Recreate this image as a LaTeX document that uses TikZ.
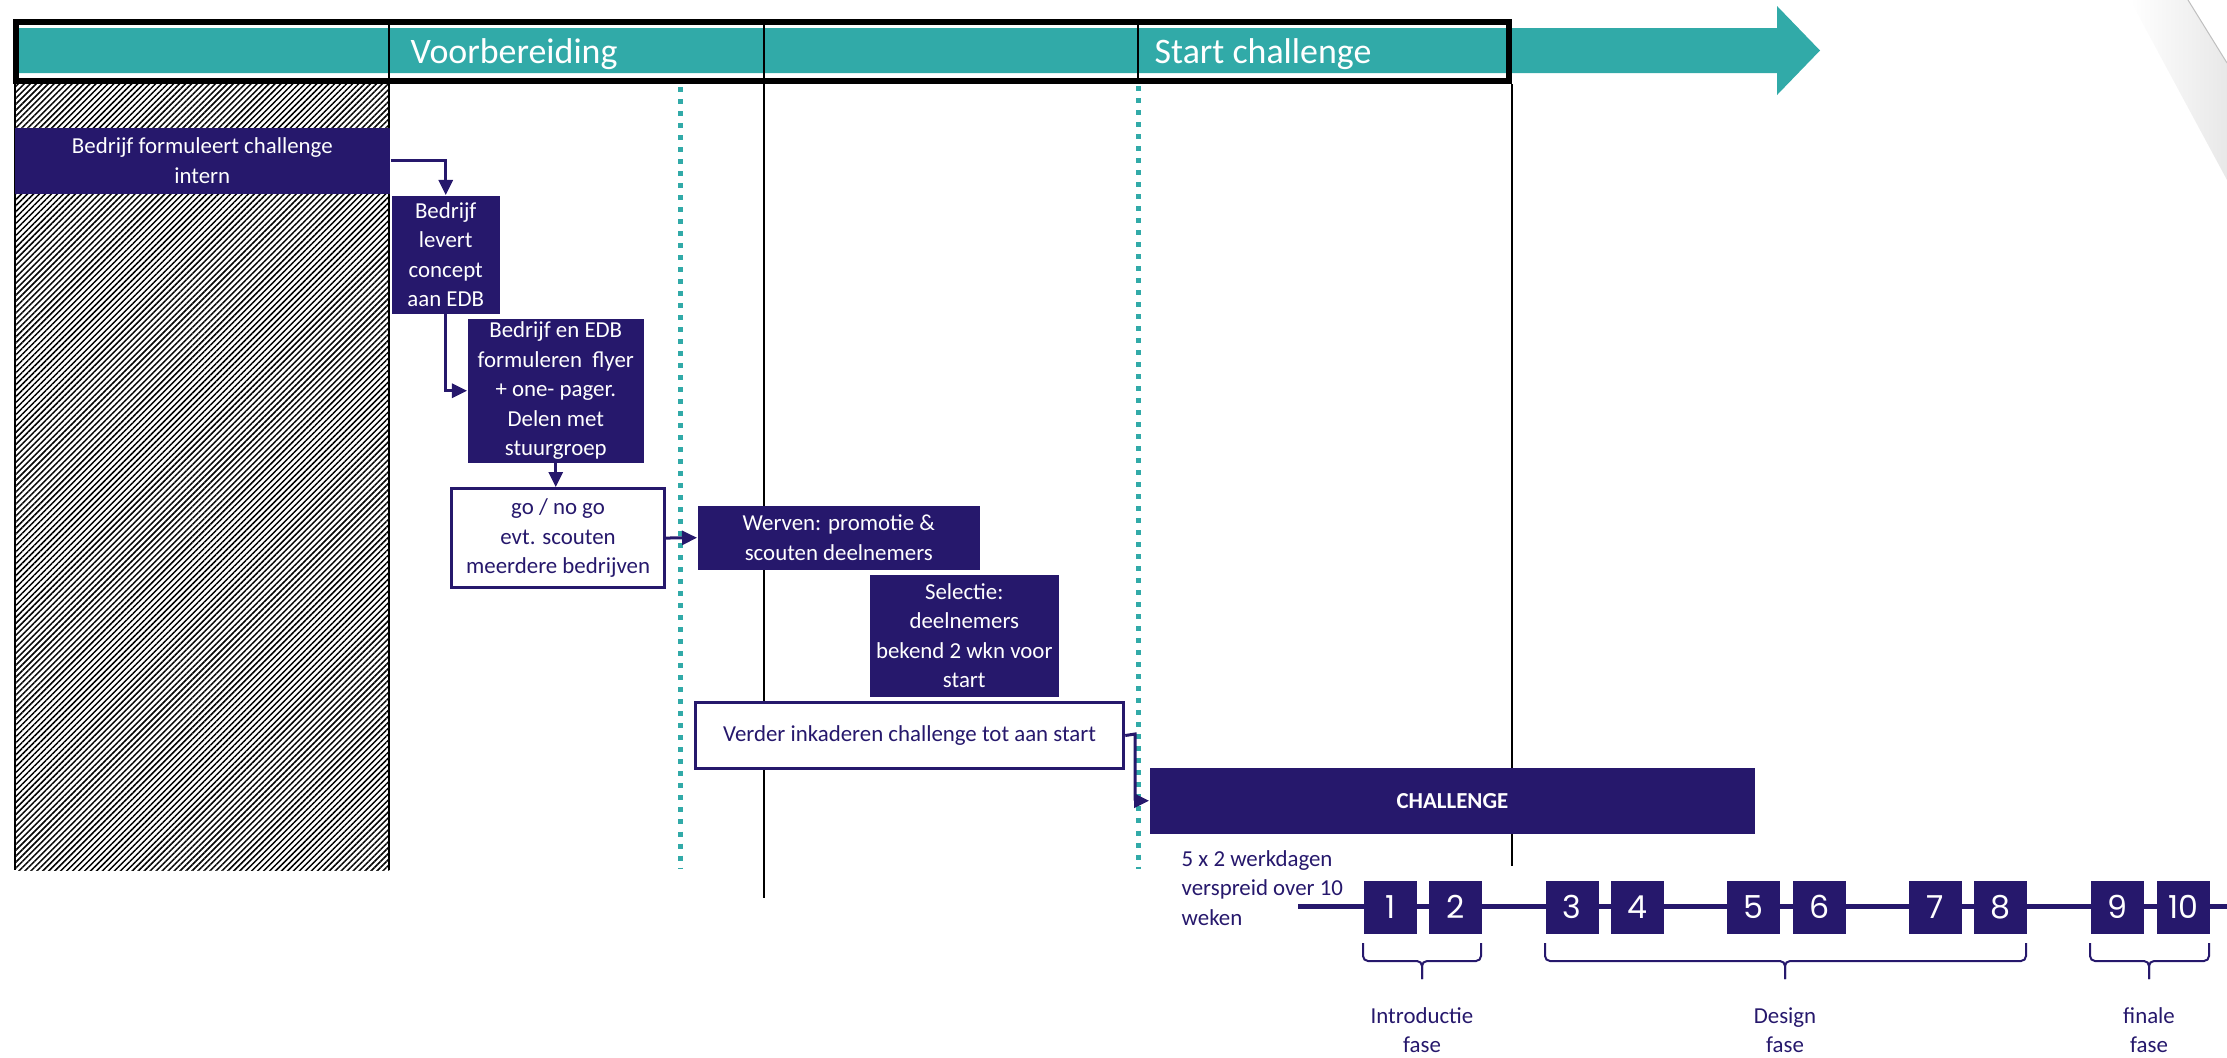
\documentclass[tikz,border=0pt]{standalone}
\usepackage{fontspec}
\setmainfont{Carlito}
\newfontfamily\dagfont{Poppins}
\usetikzlibrary{arrows.meta,patterns.meta}
\definecolor{edbblauw}{RGB}{38,24,108}
\definecolor{edbteal}{RGB}{49,170,168}

\begin{document}
\begin{tikzpicture}[x=0.01cm,y=-0.01cm,
    tekst/.style={font=\fontsize{6.5pt}{8.4pt}\selectfont},
    blok/.style={tekst,fill=edbblauw,text=white,align=center,anchor=north west,inner sep=0pt},
    openblok/.style={tekst,draw=edbblauw,line width=0.03cm,fill=white,text=edbblauw,align=center,anchor=north west,inner sep=0pt},
    verbind/.style={draw=edbblauw,line width=0.03cm,-{Triangle[length=0.15cm,width=0.14cm]}},
    dag/.style={fill=edbblauw,text=white,minimum size=0.53cm,inner sep=0pt,anchor=north west,font=\dagfont\fontsize{9pt}{9pt}\selectfont},
    fase/.style={tekst,text=edbblauw,align=center,inner sep=0pt},
    kop/.style={anchor=base west,inner sep=0pt,text=white,font=\fontsize{10.2pt}{12pt}\selectfont},
    scheiding/.style={line width=0.02cm},
    mijlpaal/.style={edbteal,line width=0.05cm,dash pattern=on 0.05cm off 0.07cm},
    haak/.style={edbblauw,line width=0.02cm,rounded corners=0.05cm}
  ]
                \useasboundingbox (0,0) rectangle (2227,1057);

                  \shade[left color=white,right color=black!9] (2130,0) -- (2188,0) -- (2227,63) -- (2227,180) -- cycle;
                  \draw[black!25,line width=0.01cm] (2188,0) -- (2227,63);

                  \fill[edbteal] (19,28) -- (1777,28) -- (1777,6) -- (1820,50.5) -- (1777,95) -- (1777,73) -- (19,73) -- cycle;
                  \draw[line width=0.06cm] (16,22) rectangle (1509,81);
                  \foreach \x in {389,764,1138}
                     \draw[scheiding] (\x,22) -- (\x,81);
                  \node[kop] (voorbereiding) at (410,63) {Voorbereiding};
                  \node[kop] (startchallenge) at (1154,63) {Start challenge};

                  \fill[pattern={Lines[angle=45,distance=1.2pt,line width=0.42pt]}] (15,84) rectangle (389,870);
                  \draw[scheiding] (15,84) to (15,870);
                  \draw[scheiding] (389,84) to (389,870);
                  \draw[scheiding] (764,84) to (764,898);
                  \draw[scheiding] (1512,84) to (1512,866);
                  \draw[mijlpaal] (680,87) to (680,869);
                  \draw[mijlpaal] (1138,86) to (1138,869);

                  \node[blok,minimum width=3.75cm,minimum height=0.66cm] (formuleert) at (14,127) {Bedrijf formuleert challenge\\intern};
                  \node[blok,minimum width=1.08cm,minimum height=1.18cm] (levert) at (391,195) {Bedrijf\\levert\\concept\\aan EDB};
                  \node[blok,minimum width=1.76cm,minimum height=1.44cm] (flyer) at (467,318) {Bedrijf en EDB\\formuleren\ \ flyer\\+ one- pager.\\Delen met\\stuurgroep};
                  \node[openblok,minimum width=2.13cm,minimum height=0.99cm] (gonogo) at (450,487) {go / no go\\evt. scouten\\meerdere bedrijven};
                  \node[blok,minimum width=2.82cm,minimum height=0.64cm] (werven) at (697,505) {Werven: promotie \&\\scouten deelnemers};
                  \node[blok,minimum width=1.89cm,minimum height=1.22cm] (selectie) at (869,574) {Selectie:\\deelnemers\\bekend 2 wkn voor\\start};
                  \node[openblok,minimum width=4.28cm,minimum height=0.66cm] (inkaderen) at (694,701) {Verder inkaderen challenge tot aan start};
                  \node[blok,minimum width=6.05cm,minimum height=0.66cm,font=\bfseries\fontsize{6.5pt}{8.4pt}\selectfont] (challenge) at (1149,767) {CHALLENGE};

                  \draw[verbind] (formuleert.east) -| (levert.north);
                  \draw[verbind] (levert.south) |- (flyer.west);
                  \draw[verbind] (flyer.south) -- (flyer.south |- gonogo.north);
                  \draw[verbind] (gonogo.east) -- (werven.west);
                  \coordinate (knik) at (1135,734);
                  \draw[verbind] (inkaderen.east) -- (knik) |- (challenge.west);

                  \draw[edbblauw,line width=0.05cm] (1298,906.5) -- (2227,906.5);
                  \foreach \x/\n in {1363/1,1428/2,1545/3,1610/4,1726/5,1792/6,1908/7,1973/8,2090/9,2156/10}
                     \node[dag] (dag\n) at (\x,880) {\n};
                  \node[tekst,text=edbblauw,align=left,anchor=west,inner sep=0pt] (werkdagen) at (1181,888) {5 x 2 werkdagen\\verspreid over 10\\weken};

                  \foreach \a/\m/\b in {1363/1422/1481,1545/1785/2026,2090/2149/2209}{
                     \draw[haak] (\a,943) -- (\a,961) -- (\m,961) -- (\m,979);
                     \draw[haak] (\b,943) -- (\b,961) -- (\m,961) -- (\m,979);
                  }
                  \node[fase] (introductie) at (1422,1030) {Introductie\\fase};
                  \node[fase] (design) at (1785,1030) {Design\\fase};
                  \node[fase] (finale) at (2149,1030) {finale\\fase};

                \end{tikzpicture}
\end{document}
